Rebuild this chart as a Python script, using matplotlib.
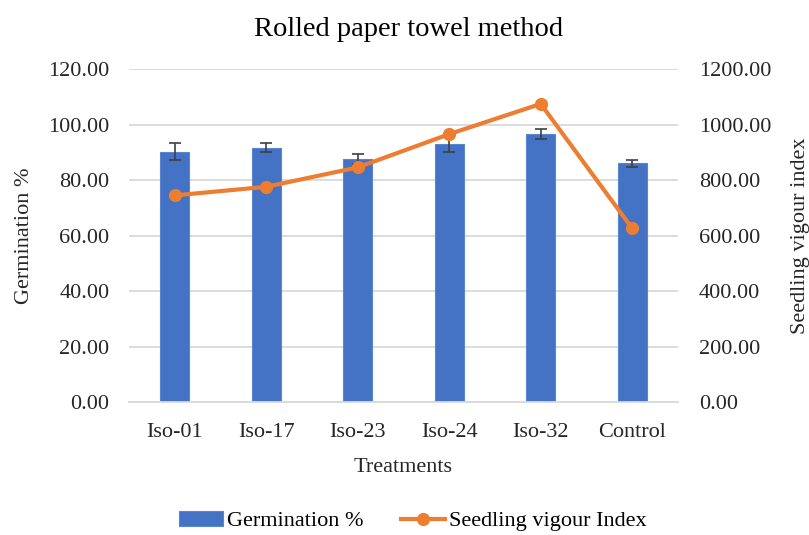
import numpy as np
import matplotlib
matplotlib.use('Agg')
import matplotlib.pyplot as plt
import matplotlib as mpl

treatments = ['Iso-01', 'Iso-17', 'Iso-23', 'Iso-24', 'Iso-32', 'Control']
germination = [90.3, 91.7, 87.5, 92.9, 96.6, 86.1]
germ_err = [3.1, 1.6, 1.8, 2.6, 1.8, 1.2]
vigour = [745, 776, 846, 966, 1075, 626]

mpl.rcParams['font.family'] = ['Liberation Serif', 'DejaVu Serif']

fig = plt.figure(figsize=(8.09, 5.35), dpi=100)
ax = fig.add_axes([0.1595, 0.2486, 0.6785, 0.622])
ax2 = ax.twinx()

x = np.arange(len(treatments))
bars = ax.bar(x, germination, 0.32, color='#4472c4', edgecolor='#5a85d0',
              linewidth=0.8, label='Germination %', zorder=2)
ax.errorbar(x, germination, yerr=germ_err, fmt='none', ecolor='#404040',
            elinewidth=1.2, capsize=4, capthick=1.2, zorder=3)
line, = ax2.plot(x, vigour, color='#ed7d31', lw=3.0, marker='o', ms=8.5,
                 label='Seedling vigour Index', zorder=4)

ax.set_ylim(0, 120)
ax2.set_ylim(0, 1200)
ax.set_xlim(-0.5, len(treatments) - 0.5)
ax.set_yticks(np.arange(0, 121, 20))
ax2.set_yticks(np.arange(0, 1201, 200))
ax.set_yticklabels(['%.2f' % v for v in np.arange(0, 121, 20)])
ax2.set_yticklabels(['%.2f' % v for v in np.arange(0, 1201, 200)])
ax.set_xticks(x)
ax.set_xticklabels(treatments)

ax.grid(axis='y', color='#d9d9d9', lw=1.3, zorder=0)
ax.set_axisbelow(True)
for a in (ax, ax2):
    for s in a.spines.values():
        s.set_visible(False)
    a.tick_params(length=0, labelsize=16, colors='#262626')
ax.tick_params(axis='y', pad=14)
ax2.tick_params(axis='y', pad=15)
ax.tick_params(axis='x', pad=15)
ax.spines['bottom'].set_visible(True)
ax.spines['bottom'].set_color('#d9d9d9')
ax.spines['bottom'].set_linewidth(1.3)

ax.set_xlabel('Treatments', fontsize=16, color='#262626', labelpad=12)
ax.set_ylabel('Germination %', fontsize=16, color='#262626', labelpad=10)
ax2.set_ylabel('Seedling vigour index', fontsize=16, color='#262626',
               rotation=90, labelpad=14)
ax.set_title('Rolled paper towel method', fontsize=20.5, color='#000000',
             pad=24, x=0.51)

fig.legend([bars, line], ['Germination %', 'Seedling vigour Index'],
           loc='center', bbox_to_anchor=(0.51, 0.026), ncol=2, frameon=False,
           fontsize=16, handlelength=2.0, columnspacing=1.7, handletextpad=0.15)

fig.savefig('out.png', dpi=100)
